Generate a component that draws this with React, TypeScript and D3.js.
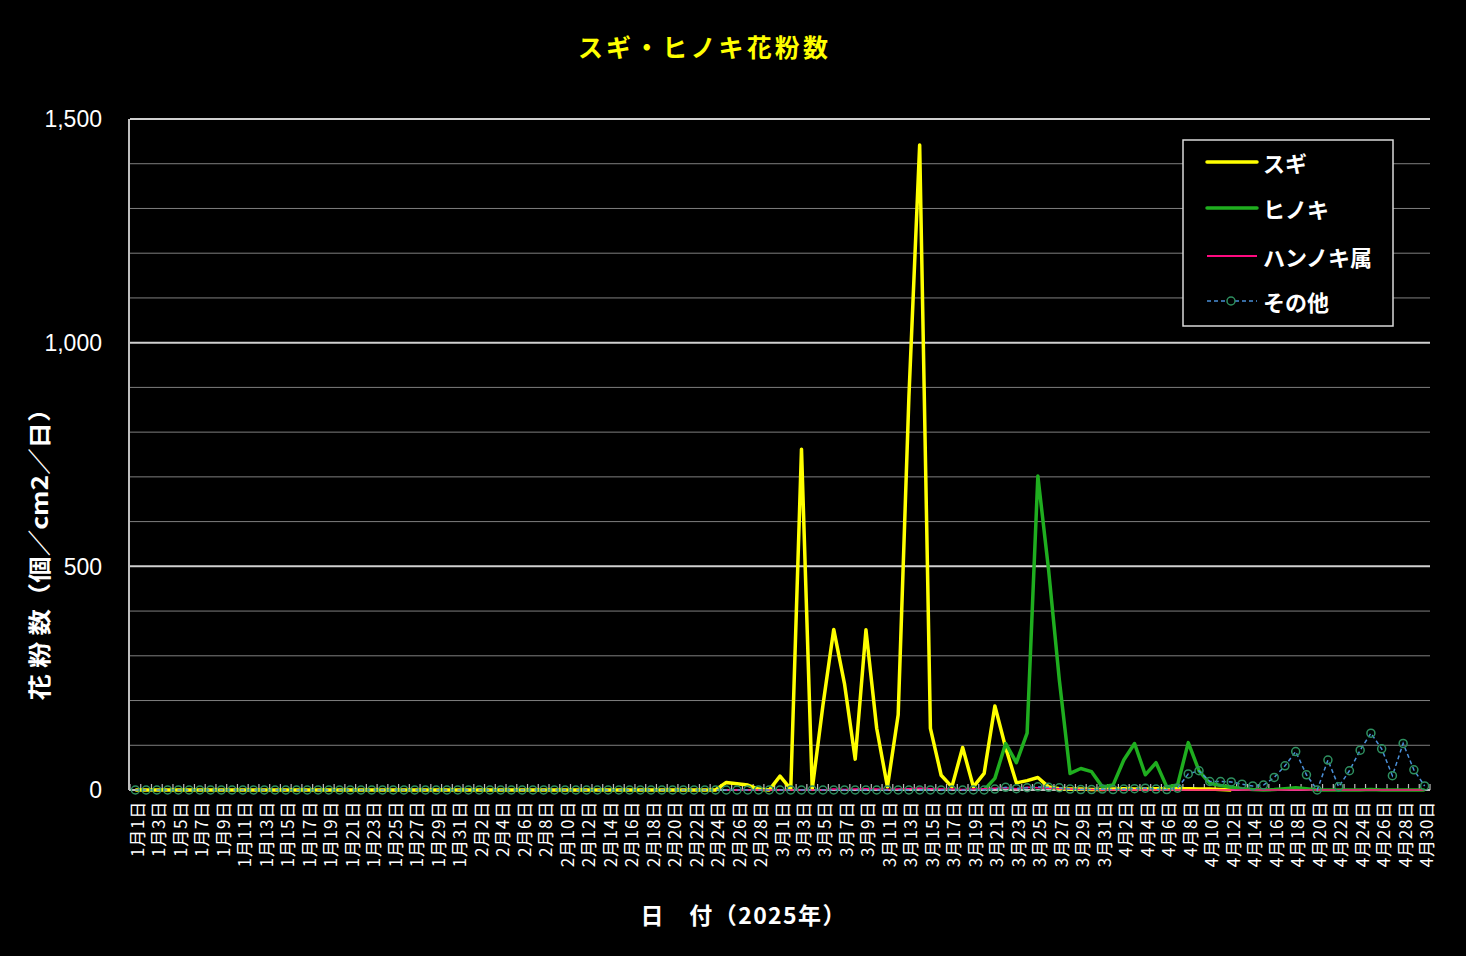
import React from "react";
import * as d3 from "d3";

const TITLE = "スギ・ヒノキ花粉数";
const Y_TITLE = "花 粉 数（個／cm2／日）";
const X_TITLE = "日　付（2025年）";
const MONTHS: [number, number][] = [[1, 31], [2, 29], [3, 31], [4, 30]];
const CATEGORIES: string[] = MONTHS.flatMap(([m, n]) => d3.range(1, n + 1).map((d) => `${m}月${d}日`));
const Y_TICKS = [0, 500, 1000, 1500];
const SERIES_NAMES = ["スギ", "ヒノキ", "ハンノキ属", "その他"];

const N = null;
// index 0..120 (Jan 1 .. Apr 30, incl. a Feb 29 row)
const SUGI: (number | null)[] = [
  0,0,0,0,0,0,0,0,0,0, 0,0,0,0,0,0,0,0,0,0, 0,0,0,0,0,0,0,0,0,0, 0,
  0,0,0,0,0,0,0,0,0,0, 0,0,0,0,0,0,0,0,0,0, 0,0,0,0,17,14,11,2,0,
  31,2,762,2,190,359,238,69,358,138, 7,168,880,1442,138,33,7,95,7,37, 188,95,16,21,28,7,3,2,2,1, 1,
  2,3,2,2,3,2,3,3,2,2, 1,0,N,N,N,N,N,N,N,N, N,N,N,N,N,N,N,N,N,N,
];
const HINOKI: (number | null)[] = [
  ...Array(79).fill(N),
  0,26,104,61,127,702,492,246,37,48, 41,7,11,67,104,34,61,7,11,106, 43,15,10,6,3,1,0,1,3,5, 3,0,0,0,0,0,1,0,0,0, 0,0,
];
const HANNOKI: (number | null)[] = [
  ...Array(55).fill(N),
  0,0,0,0,0,0,0,0,0,0, 2,1,2,3,2,1,2,3,4,3, 2,2,1,2,3,4,5,3,6,5, 4,3,2,1,1,0,0,0,0,0,
  0,0,0,0,0,0,0,0,0,0, 0,0,0,0,0,0,0,0,0,0, 0,0,0,0,0,0,
];
const OTHER: (number | null)[] = [
  0,0,0,0,0,0,0,0,0,0, 0,0,0,0,0,0,0,0,0,0, 0,0,0,0,0,0,0,0,0,0, 0,
  0,0,0,0,0,0,0,0,0,0, 0,0,0,0,0,0,0,0,0,0, 0,0,0,0,0,0,0,0,0,
  0,0,0,0,0,0,0,0,0,0, 0,0,0,0,0,0,0,0,0,0, 2,6,3,5,7,6,5,2,1,1, 2,
  1,2,3,4,2,1,4,36,43,19, 19,18,13,9,11,28,54,86,34,0, 67,7,43,89,127,92,32,104,45,9,
];

const W = 1466, H = 956;
const L = 130, R = 1430, T = 119, B = 790;

export default function App() {
  const x = d3.scaleBand<number>().domain(d3.range(CATEGORIES.length)).range([L, R]).padding(0);
  const bw = x.bandwidth();
  const cx = (i: number) => (x(i) as number) + bw / 2;
  const y = d3.scaleLinear().domain([0, 1500]).range([B, T]);
  const line = d3.line<number | null>()
    .defined((d) => d != null)
    .x((_, i) => cx(i))
    .y((d) => y(d as number));
  const fmt = d3.format(",");
  const grid = d3.range(100, 1501, 100);
  const cjk = "'Noto Sans CJK JP', 'Noto Sans', sans-serif";
  const latin = "'Liberation Sans', Arial, sans-serif";

  const legendY = [162, 208, 256, 301];

  return (
    <svg width={W} height={H} style={{ position: "absolute", left: 0, top: 0, background: "#000" }}>
      <rect x={0} y={0} width={W} height={H} fill="#000" />
      <text x={703} y={57} fill="#ffff00" fontFamily={cjk} fontWeight="bold" fontSize={25} textAnchor="middle" textLength={250} lengthAdjust="spacing">{TITLE}</text>
      {grid.map((v) => (
        <line key={v} x1={L} x2={R} y1={y(v)} y2={y(v)} stroke={v % 500 === 0 ? "#d0d0d0" : "#7f7f7f"} strokeWidth={v % 500 === 0 ? 2 : 1} />
      ))}
      <line x1={L - 1} x2={L - 1} y1={T} y2={B} stroke="#bfbfbf" strokeWidth={2} />
      <line x1={L - 1} x2={R} y1={B} y2={B} stroke="#bfbfbf" strokeWidth={2} />
      {d3.range(CATEGORIES.length + 1).map((i) => {
        const xx = L + i * bw;
        return <line key={i} x1={xx} x2={xx} y1={B} y2={B - 6} stroke="#bfbfbf" strokeWidth={1.2} />;
      })}
      {Y_TICKS.map((v) => (
        <text key={v} x={102} y={y(v)} dy="0.36em" fill="#fff" fontFamily={latin} fontSize={23} textAnchor="end">{fmt(v)}</text>
      ))}
      {CATEGORIES.map((c, i) => i % 2 === 0 ? (
        <text key={c} transform={`translate(${cx(i) + 1},${801}) rotate(-90)`} fill="#fff" fontFamily={cjk} fontSize={17} letterSpacing={0.8} textAnchor="end" dominantBaseline="central">{c}</text>
      ) : null)}
      <text transform={`translate(38,548) rotate(-90)`} fill="#fff" fontFamily={cjk} fontWeight="bold" fontSize={23} textAnchor="middle" dominantBaseline="central" textLength={305} lengthAdjust="spacingAndGlyphs">{Y_TITLE}</text>
      <text x={743} y={924} fill="#fff" fontFamily={cjk} fontWeight="bold" fontSize={23} textAnchor="middle" textLength={205} lengthAdjust="spacing">{X_TITLE}</text>

      <path d={line(SUGI) || ""} fill="none" stroke="#ffff00" strokeWidth={3.5} strokeLinejoin="round" />
      <path d={line(HINOKI) || ""} fill="none" stroke="#1fae1f" strokeWidth={3.5} strokeLinejoin="round" />
      <path d={line(HANNOKI) || ""} fill="none" stroke="#ff0a80" strokeWidth={1.5} />
      <path d={line(OTHER) || ""} fill="none" stroke="#4a8fd8" strokeWidth={1.5} strokeDasharray="4 3" />
      {OTHER.map((v, i) => v == null ? null : (
        <circle key={i} cx={cx(i)} cy={y(v)} r={4} fill="none" stroke="#2e9060" strokeWidth={1.5} />
      ))}

      <rect x={1183} y={140} width={210} height={186} fill="#000" stroke="#d9d9d9" strokeWidth={1.5} />
      {SERIES_NAMES.map((s, k) => {
        const ly = legendY[k];
        let mark;
        if (k === 0) mark = <line x1={1207} x2={1257} y1={ly} y2={ly} stroke="#ffff00" strokeWidth={3.5} strokeLinecap="round" />;
        else if (k === 1) mark = <line x1={1207} x2={1257} y1={ly} y2={ly} stroke="#1fae1f" strokeWidth={3.5} strokeLinecap="round" />;
        else if (k === 2) mark = <line x1={1207} x2={1257} y1={ly} y2={ly} stroke="#ff0a80" strokeWidth={1.8} />;
        else mark = (
          <g>
            <line x1={1207} x2={1257} y1={ly} y2={ly} stroke="#4a8fd8" strokeWidth={1.5} strokeDasharray="4 3" />
            <circle cx={1231} cy={ly} r={4} fill="#000" stroke="#2e9060" strokeWidth={1.5} />
          </g>
        );
        return (
          <g key={s}>
            {mark}
            <text x={1263} y={ly} fill="#fff" fontFamily={cjk} fontWeight="bold" fontSize={22} dominantBaseline="central">{s}</text>
          </g>
        );
      })}
    </svg>
  );
}
